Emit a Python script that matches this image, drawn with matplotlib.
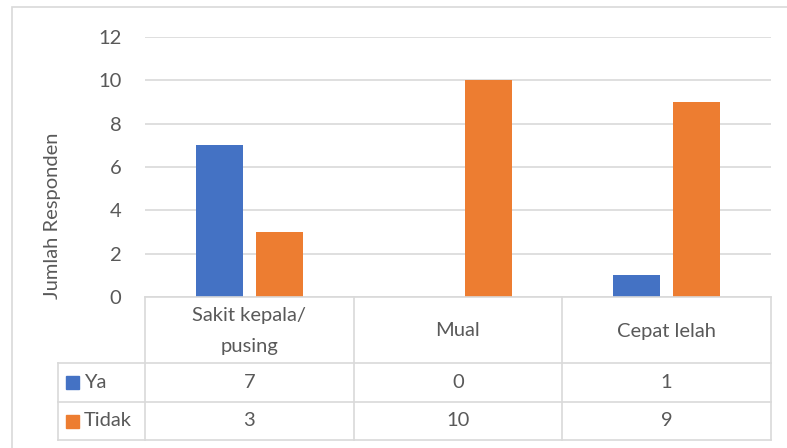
import matplotlib.pyplot as plt
from matplotlib.patches import Rectangle
from matplotlib.lines import Line2D
import numpy as np

categories = ["Sakit kepala/\npusing", "Mual", "Cepat lelah"]
series_names = ["Ya", "Tidak"]
ya = [7, 0, 1]
tidak = [3, 10, 9]
y_ticks = [0, 2, 4, 6, 8, 10, 12]

colors = ["#4472C4", "#ED7D31"]
text_color = "#595959"
line_color = "#D9D9D9"

plt.rcParams["font.family"] = ["Lato", "DejaVu Sans"]
fs = 14.5

W, H = 787, 448
fig = plt.figure(figsize=(W / 100, H / 100), dpi=100)

def fx(px):
    return px / W

def fy(py):
    return 1 - py / H

# outer chart frame
fig.patches.append(Rectangle((fx(12), fy(460)), fx(800) - fx(12), fy(7) - fy(460),
                             transform=fig.transFigure, fill=False,
                             edgecolor=line_color, linewidth=1.2))

# plot area
left, right, top, bottom = 145, 771, 37, 297
ax = fig.add_axes([fx(left), fy(bottom), fx(right) - fx(left), fy(top) - fy(bottom)])
x = np.arange(len(categories))
bw = 0.225
off = 0.144
ax.bar(x - off, ya, width=bw, color=colors[0], zorder=3)
ax.bar(x + off, tidak, width=bw, color=colors[1], zorder=3)
ax.set_xlim(-0.5, len(categories) - 0.5)
ax.set_ylim(0, 12)
ax.set_yticks(y_ticks)
ax.set_yticklabels([str(t) for t in y_ticks], fontsize=fs, color=text_color)
ax.tick_params(axis="y", length=0, pad=17)
ax.set_xticks([])
for s in ax.spines.values():
    s.set_visible(False)
ax.yaxis.grid(True, color=line_color, linewidth=1.2, zorder=0)
ax.set_axisbelow(True)

# axis title, centred over plot area plus table
fig.text(fx(53), fy(216), "Jumlah Responden", rotation=90, ha="center", va="center",
         fontsize=fs, color=text_color)

# data table below the plot area
tab = fig.add_axes([0, 0, 1, 1], facecolor="none")
tab.set_xlim(0, W)
tab.set_ylim(H, 0)
tab.axis("off")

col_edges = [left] + [left + (right - left) * (i + 1) / len(categories) for i in range(len(categories))]
row_edges = [297, 363, 402, 440]
legend_left = 58

lw = 1.2
tab.add_line(Line2D([left, right], [row_edges[0]] * 2, color=line_color, lw=lw))
for yy in row_edges[1:]:
    tab.add_line(Line2D([legend_left, right], [yy, yy], color=line_color, lw=lw))
tab.add_line(Line2D([legend_left, legend_left], [row_edges[1], row_edges[-1]], color=line_color, lw=lw))
for xx in col_edges:
    tab.add_line(Line2D([xx, xx], [row_edges[0], row_edges[-1]], color=line_color, lw=lw))

for i, cat in enumerate(categories):
    cx = (col_edges[i] + col_edges[i + 1]) / 2
    tab.text(cx, (row_edges[0] + row_edges[1]) / 2 + 1, cat, ha="center", va="center",
             fontsize=fs, color=text_color, linespacing=1.95)

for r, (name, vals) in enumerate(zip(series_names, [ya, tidak])):
    cy = (row_edges[r + 1] + row_edges[r + 2]) / 2
    tab.add_patch(Rectangle((66, cy - 6), 13, 13, color=colors[r]))
    tab.text(84, cy, name, ha="left", va="center", fontsize=fs, color=text_color)
    for i, v in enumerate(vals):
        cx = (col_edges[i] + col_edges[i + 1]) / 2
        tab.text(cx, cy, str(v), ha="center", va="center", fontsize=fs, color=text_color)

fig.savefig("out.png", dpi=100, facecolor="white")
